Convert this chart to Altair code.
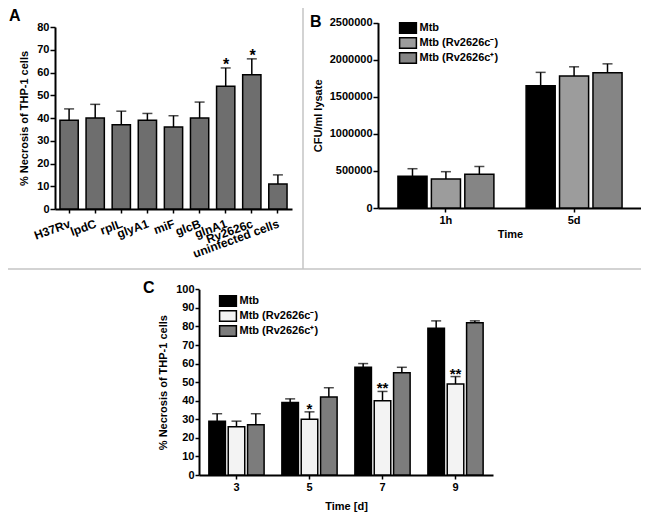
import altair as alt
import pandas as pd

FONT = "Liberation Sans"

# ---------------- Panel A data ----------------
a_strains = ["H37Rv", "lpdC", "rplL", "glyA1", "miF", "glcB", "glnA1", "Rv2626c", "uninfected cells"]
a_mean = [39, 40, 37, 39, 36, 40, 54, 59, 11]
a_upper = [44, 46, 43, 42, 41, 47, 62, 66, 15]
a_sig = ["", "", "", "", "", "", "*", "*", ""]

# ---------------- Panel B data ----------------
b_times = ["1h", "5d"]
b_series = ["Mtb", "Mtb (Rv2626c\u207b)", "Mtb (Rv2626c\u207a)"]
b_mean_mtb = [430000, 1650000]
b_upper_mtb = [530000, 1830000]
b_mean_neg = [390000, 1780000]
b_upper_neg = [490000, 1905000]
b_mean_pos = [455000, 1825000]
b_upper_pos = [560000, 1945000]
b_colors = ["#000000", "#9c9c9c", "#858585"]

# ---------------- Panel C data ----------------
c_days = ["3", "5", "7", "9"]
c_series = ["Mtb", "Mtb (Rv2626c\u207b)", "Mtb (Rv2626c\u207a)"]
c_mean_mtb = [29, 39, 58, 79]
c_upper_mtb = [33, 41, 60, 83]
c_mean_neg = [26, 30, 40, 49]
c_upper_neg = [29, 34, 45, 53]
c_mean_pos = [27, 42, 55, 82]
c_upper_pos = [33, 47, 58, 83]
c_sig_neg = ["", "*", "**", "**"]
c_colors = ["#000000", "#f3f3f3", "#7c7c7c"]

panel_letters = ["A", "B", "C"]

# ---------------- tables ----------------
dfA = pd.DataFrame({"strain": a_strains, "mean": a_mean, "upper": a_upper, "sig": a_sig})

rows = []
for i, t in enumerate(b_times):
    for s, m, u in zip(b_series,
                       [b_mean_mtb[i], b_mean_neg[i], b_mean_pos[i]],
                       [b_upper_mtb[i], b_upper_neg[i], b_upper_pos[i]]):
        rows.append({"time": t, "series": s, "mean": m, "upper": u})
dfB = pd.DataFrame(rows)

rows = []
for i, d in enumerate(c_days):
    for s, m, u, g in zip(c_series,
                          [c_mean_mtb[i], c_mean_neg[i], c_mean_pos[i]],
                          [c_upper_mtb[i], c_upper_neg[i], c_upper_pos[i]],
                          ["", c_sig_neg[i], ""]):
        rows.append({"day": d, "series": s, "mean": m, "upper": u, "sig": g})
dfC = pd.DataFrame(rows)

W, H = 633, 506
OFF = 8  # page margin: chart coords = reference coords - 8


def ax_style(**kw):
    base = dict(labelFont=FONT, labelFontSize=11, labelFontWeight="bold", labelColor="black",
                titleFont=FONT, titleFontSize=11, titleFontWeight="bold", titleColor="black",
                domainColor="black", domainWidth=2, tickColor="black", tickWidth=1.5,
                grid=False)
    base.update(kw)
    return alt.Axis(**base)


def legend_style(x, y, row_pad):
    return alt.Legend(orient="none", legendX=x, legendY=y, title=None,
                      symbolType="M-1.6,-1H1.6V1H-1.6Z", symbolSize=110,
                      symbolStrokeColor="black", symbolStrokeWidth=1.5,
                      symbolOpacity=1, labelFont=FONT, labelFontSize=11,
                      labelFontWeight="bold", labelColor="black", labelOffset=5.5,
                      rowPadding=row_pad, padding=0)


# ---------------- Panel A ----------------
xA = alt.Scale(domain=a_strains, range=[55 - OFF, 292 - OFF], paddingInner=0.3, paddingOuter=0.19)
yA = alt.Scale(domain=[0, 80], range=[209 - OFF, 27 - OFF], nice=False)
xA_noax = alt.X("strain:N", scale=xA, sort=a_strains, axis=None)

baseA = alt.Chart(dfA)
barA = baseA.mark_bar(fill="#6e6e6e", stroke="black", strokeWidth=1.5).encode(
    x=alt.X("strain:N", scale=xA, sort=a_strains,
            axis=ax_style(orient="bottom", offset=(209 - OFF) - H, labelAngle=340,
                          labelAlign="right", labelBaseline="top", tickSize=4, labelPadding=5,
                          labelFontSize=12, labelOffset=-1, title=None)),
    y=alt.Y("mean:Q", scale=yA,
            axis=ax_style(orient="left", offset=-(55 - OFF), values=list(range(0, 81, 10)),
                          tickSize=5, labelPadding=1, title="% Necrosis of THP-1 cells",
                          titlePadding=7)),
)
errA = baseA.mark_rule(color="black", strokeWidth=1.5).encode(
    x=xA_noax, y=alt.Y("mean:Q", scale=yA, axis=None), y2="upper:Q",
)
capA = baseA.mark_tick(color="black", size=10, thickness=1.5, orient="horizontal").encode(
    x=xA_noax, y=alt.Y("upper:Q", scale=yA, axis=None),
)
starA = baseA.mark_text(font=FONT, fontSize=16, fontWeight="bold", baseline="middle", dy=-3,
                        color="black").encode(
    x=xA_noax, y=alt.Y("upper:Q", scale=yA, axis=None), text="sig:N",
)

# ---------------- Panel B ----------------
xB = alt.Scale(domain=b_times, range=[378 - OFF, 642 - OFF], paddingInner=0.22, paddingOuter=0.14)
xoB = alt.Scale(domain=b_series, paddingInner=0.13, paddingOuter=0.06)
yB = alt.Scale(domain=[0, 2500000], range=[208 - OFF, 22.7 - OFF], nice=False)
fB = alt.Scale(domain=b_series, range=b_colors)
xB_noax = alt.X("time:N", scale=xB, sort=b_times, axis=None)
xoB_enc = alt.XOffset("series:N", scale=xoB, sort=b_series)

baseB = alt.Chart(dfB)
barB = baseB.mark_bar(stroke="black", strokeWidth=1.5).encode(
    x=alt.X("time:N", scale=xB, sort=b_times,
            axis=ax_style(orient="bottom", offset=(208 - OFF) - H, labelAngle=0, tickSize=4,
                          labelPadding=2, title="Time", titlePadding=3)),
    xOffset=xoB_enc,
    y=alt.Y("mean:Q", scale=yB,
            axis=ax_style(orient="left", offset=-(378 - OFF), values=list(range(0, 2500001, 500000)),
                          format="d", tickSize=5, labelPadding=1, title="CFU/ml lysate",
                          titlePadding=6)),
    fill=alt.Fill("series:N", scale=fB, sort=b_series, legend=legend_style(394, 14, -3.3)),
)
errB = baseB.mark_rule(color="black", strokeWidth=1.5).encode(
    x=xB_noax, xOffset=xoB_enc, y=alt.Y("mean:Q", scale=yB, axis=None), y2="upper:Q",
)
capB = baseB.mark_tick(color="black", size=10, thickness=1.5, orient="horizontal").encode(
    x=xB_noax, xOffset=xoB_enc, y=alt.Y("upper:Q", scale=yB, axis=None),
)

# ---------------- Panel C ----------------
xC = alt.Scale(domain=c_days, range=[199 - OFF, 493 - OFF], paddingInner=0.233, paddingOuter=0.13)
xoC = alt.Scale(domain=c_series, paddingInner=0.145, paddingOuter=0.02)
yC = alt.Scale(domain=[0, 100], range=[475 - OFF, 289.3 - OFF], nice=False)
fC = alt.Scale(domain=c_series, range=c_colors)
xC_noax = alt.X("day:N", scale=xC, sort=c_days, axis=None)
xoC_enc = alt.XOffset("series:N", scale=xoC, sort=c_series)

baseC = alt.Chart(dfC)
barC = baseC.mark_bar(stroke="black", strokeWidth=1.5).encode(
    x=alt.X("day:N", scale=xC, sort=c_days,
            axis=ax_style(orient="bottom", offset=(475 - OFF) - H, labelAngle=0, tickSize=4,
                          labelPadding=2, title="Time [d]", titlePadding=8)),
    xOffset=xoC_enc,
    y=alt.Y("mean:Q", scale=yC,
            axis=ax_style(orient="left", offset=-(199 - OFF), values=list(range(0, 101, 10)),
                          tickSize=4, labelPadding=1, title="% Necrosis of THP-1 cells",
                          titlePadding=7)),
    fill=alt.Fill("series:N", scale=fC, sort=c_series, legend=legend_style(214, 287, -4.5)),
)
errC = baseC.mark_rule(color="black", strokeWidth=1.5).encode(
    x=xC_noax, xOffset=xoC_enc, y=alt.Y("mean:Q", scale=yC, axis=None), y2="upper:Q",
)
capC = baseC.mark_tick(color="black", size=10, thickness=1.5, orient="horizontal").encode(
    x=xC_noax, xOffset=xoC_enc, y=alt.Y("upper:Q", scale=yC, axis=None),
)
starC = baseC.mark_text(font=FONT, fontSize=15, fontWeight="bold", baseline="middle", dy=-3,
                        color="black").encode(
    x=xC_noax, xOffset=xoC_enc, y=alt.Y("upper:Q", scale=yC, axis=None), text="sig:N",
)

# ---------------- decorations: panel letters and frame dividers ----------------
one = pd.DataFrame({"k": [0]})
letter_pos = [(1, 13), (302, 19), (135, 285)]
letters = []
for lab, (lx, ly) in zip(panel_letters, letter_pos):
    letters.append(
        alt.Chart(one).mark_text(text=lab, font=FONT, fontSize=16, fontWeight="bold",
                                 align="left", baseline="alphabetic", color="black")
        .encode(x=alt.value(lx), y=alt.value(ly))
    )

divV = alt.Chart(one).mark_rule(color="#c4c4c4", strokeWidth=1.5).encode(
    x=alt.value(303 - OFF), y=alt.value(0), y2=alt.value(269 - OFF))
divH = alt.Chart(one).mark_rule(color="#c4c4c4", strokeWidth=1.5).encode(
    x=alt.value(0), x2=alt.value(W), y=alt.value(269 - OFF))

chart = alt.layer(
    divV, divH,
    barA, errA, capA, starA,
    barB, errB, capB,
    barC, errC, capC, starC,
    *letters,
).resolve_scale(
    x="independent", y="independent", xOffset="independent", fill="independent"
).properties(
    width=W, height=H, autosize=alt.AutoSizeParams(type="none"), padding=0,
).configure(background="white").configure_view(stroke=None)

chart.save("out.html", embed_options={"renderer": "svg", "actions": False})
